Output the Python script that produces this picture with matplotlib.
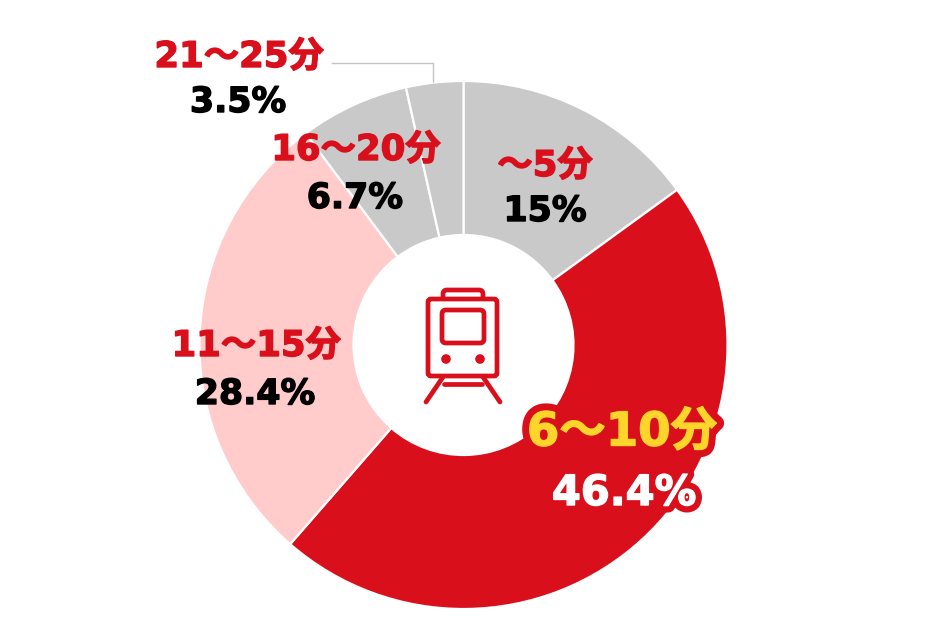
import matplotlib
matplotlib.use("Agg")
import matplotlib.pyplot as plt
import matplotlib.patheffects as pe
from matplotlib.patches import FancyBboxPatch, Circle

plt.rcParams['font.family'] = ['DejaVu Sans', 'Noto Sans CJK JP']

categories = ['〜5分', '6〜10分', '11〜15分', '16〜20分', '21〜25分']
values = [15, 46.4, 28.4, 6.7, 3.5]
value_labels = ['15%', '46.4%', '28.4%', '6.7%', '3.5%']
colors = ['#c9c9c9', '#d90f1c', '#ffcccb', '#c9c9c9', '#c9c9c9']

W, H = 930, 632
RED = '#d90f1c'
fig = plt.figure(figsize=(W / 100, H / 100), dpi=100)
ax = fig.add_axes([0, 0, 1, 1])
ax.set_xlim(0, W)
ax.set_ylim(0, H)
ax.set_aspect('equal')
ax.axis('off')

def Y(y):
    return H - y

ax.pie(values, colors=colors, startangle=90, counterclock=False,
       center=(463.5, Y(345)), radius=264, frame=False,
       wedgeprops=dict(width=154, edgecolor='white', linewidth=1.6))
ax.set_xlim(0, W)
ax.set_ylim(0, H)

# leader line
ax.plot([332, 433, 433], [Y(63), Y(63), Y(82)], color='#c4c4c4', lw=1.0, zorder=2)

# train icon
lw = 3.4
ic = dict(color=RED, lw=lw, solid_capstyle='round', solid_joinstyle='round', zorder=3)
def rrect(x0, y0, x1, y1, r):
    ax.add_patch(FancyBboxPatch((x0 + r, Y(y1) + r), x1 - x0 - 2 * r, y1 - y0 - 2 * r,
                                boxstyle=f'round,pad={r},rounding_size={r}',
                                fc='white', ec=RED, lw=lw, zorder=3))
rrect(443, 290, 483, 305, 4)
rrect(428, 299, 497, 376, 3)
rrect(442, 310, 484, 343, 4)
for cx in (446, 480):
    ax.add_patch(Circle((cx, Y(359)), 4.8, fc=RED, ec='none', zorder=4))
ax.plot([443, 426], [Y(377), Y(402)], **ic)
ax.plot([483, 500], [Y(377), Y(402)], **ic)
ax.plot([444, 482], [Y(384), Y(384)], **ic)

def label(x, y, s, color, size, outline=None):
    t = ax.text(x, Y(y), s, color=color, fontsize=size, fontweight='bold',
                ha='center', va='center', zorder=6)
    effects = []
    if outline:
        effects.append(pe.Stroke(linewidth=outline, foreground=RED))
    effects.append(pe.Stroke(linewidth=1.0, foreground=color))
    effects.append(pe.Normal())
    t.set_path_effects(effects)

name_pos = [(545, 166), (622, 433), (256, 346), (356, 150), (239, 57)]
val_pos = [(545, 211), (624, 493), (255, 394), (355, 198), (238, 102)]
for i, (c, v) in enumerate(zip(categories, value_labels)):
    if i == 1:
        label(*name_pos[i], c, '#ffd52b', 33.5, outline=11)
        label(*val_pos[i], v, 'white', 30, outline=10)
    else:
        label(*name_pos[i], c, RED, 25.5)
        label(*val_pos[i], v, 'black', 25)

fig.savefig('out.png', dpi=100, facecolor='white')
